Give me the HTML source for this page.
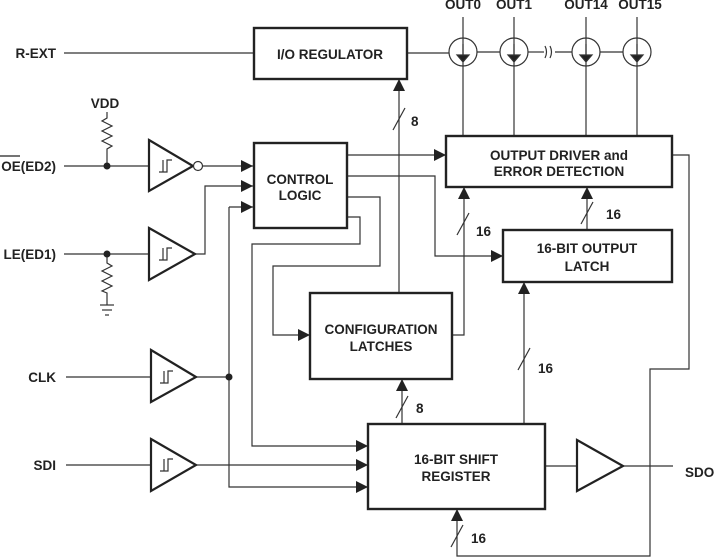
<!DOCTYPE html>
<html><head><meta charset="utf-8"><style>
html,body{margin:0;padding:0;background:#fff;}
svg{display:block;}
text{font-family:"Liberation Sans",Arial,sans-serif;font-weight:bold;font-size:13.5px;fill:#222;}
</style></head><body>
<svg width="714" height="557" viewBox="0 0 714 557" xmlns="http://www.w3.org/2000/svg">
<defs>
<marker id="a" viewBox="0 0 10 10" refX="10" refY="5" markerWidth="12" markerHeight="12" markerUnits="userSpaceOnUse" orient="auto"><path d="M0,0 L10,5 L0,10 z" fill="#222"/></marker>
</defs>
<g stroke="#333" stroke-width="1.2" fill="none">
<line x1="64" y1="53" x2="253" y2="53"/>
<line x1="407" y1="53" x2="449" y2="53"/>
<line x1="477" y1="52" x2="500" y2="52"/>
<line x1="528" y1="52" x2="544" y2="52"/>
<line x1="555" y1="52" x2="572" y2="52"/>
<line x1="600" y1="52" x2="623" y2="52"/>
<path d="M545,46 q3,6 0,12 M550,46 q3,6 0,12"/>
<circle cx="463" cy="52" r="14"/><circle cx="514" cy="52" r="14"/><circle cx="586" cy="52" r="14"/><circle cx="637" cy="52" r="14"/>
<line x1="463" y1="17" x2="463" y2="136"/><line x1="514" y1="17" x2="514" y2="136"/><line x1="586" y1="17" x2="586" y2="136"/><line x1="637" y1="17" x2="637" y2="136"/>
<line x1="64" y1="166" x2="149" y2="166"/>
<path d="M107,112 L107,118 L102,121 L112,126 L102,131 L112,136 L102,141 L112,146 L107,149 L107,166"/>
<line x1="202" y1="166" x2="253" y2="166" marker-end="url(#a)"/>
<line x1="64" y1="254" x2="149" y2="254"/>
<path d="M107,254 L107,263 L112,266 L102,271 L112,276 L102,281 L112,286 L102,291 L107,293 L107,305"/>
<line x1="100" y1="305" x2="114" y2="305"/><line x1="102" y1="310" x2="112" y2="310"/><line x1="105" y1="315" x2="109" y2="315"/>
<path d="M195,254 L205,254 L205,186 L253,186" marker-end="url(#a)"/>
<line x1="66" y1="377" x2="151" y2="377"/>
<line x1="196" y1="377" x2="229" y2="377"/>
<path d="M229,207 L229,487 L368,487" marker-end="url(#a)"/>
<line x1="229" y1="207" x2="253" y2="207" marker-end="url(#a)"/>
<line x1="66" y1="465" x2="151" y2="465"/>
<line x1="196" y1="465" x2="368" y2="465" marker-end="url(#a)"/>
<line x1="347" y1="155" x2="446" y2="155" marker-end="url(#a)"/>
<path d="M347,176 L435,176 L435,256 L503,256" marker-end="url(#a)"/>
<path d="M347,197 L380,197 L380,266 L273,266 L273,335 L310,335" marker-end="url(#a)"/>
<path d="M347,217 L360,217 L360,244 L252,244 L252,446 L368,446" marker-end="url(#a)"/>
<line x1="399" y1="293" x2="399" y2="79" marker-end="url(#a)"/>
<line x1="393" y1="130" x2="405" y2="108"/>
<path d="M452,335 L464,335 L464,187" marker-end="url(#a)"/>
<line x1="457" y1="235" x2="469" y2="213"/>
<line x1="587" y1="230" x2="587" y2="187" marker-end="url(#a)"/>
<line x1="581" y1="224" x2="593" y2="202"/>
<line x1="402" y1="424" x2="402" y2="379" marker-end="url(#a)"/>
<line x1="396" y1="418" x2="408" y2="396"/>
<line x1="524" y1="424" x2="524" y2="282" marker-end="url(#a)"/>
<line x1="518" y1="370" x2="530" y2="348"/>
<line x1="545" y1="466" x2="577" y2="466"/>
<line x1="623" y1="466" x2="673" y2="466"/>
<path d="M672,155 L689,155 L689,369 L650,369 L650,556 L457,556 L457,509" marker-end="url(#a)"/>
<line x1="451" y1="547" x2="463" y2="525"/>
</g>
<g fill="#222"><circle cx="107" cy="166" r="3.5"/><circle cx="107" cy="254" r="3.5"/><circle cx="229" cy="377" r="3.5"/></g>
<g fill="#222" stroke="#333" stroke-width="1.2">
<path d="M463,44 L463,56"/><path d="M457,55 L469,55 L463,62 z"/>
<path d="M514,44 L514,56"/><path d="M508,55 L520,55 L514,62 z"/>
<path d="M586,44 L586,56"/><path d="M580,55 L592,55 L586,62 z"/>
<path d="M637,44 L637,56"/><path d="M631,55 L643,55 L637,62 z"/>
</g>
<g stroke="#222" stroke-width="2.2" fill="#fff">
<path d="M149,140 L193,166 L149,191 z"/>
<path d="M149,228 L195,254 L149,280 z"/>
<path d="M151,350 L196,377 L151,402 z"/>
<path d="M151,439 L196,465 L151,491 z"/>
<path d="M577,440 L623,466 L577,491 z"/>
</g>
<circle cx="198" cy="166" r="4.5" fill="#fff" stroke="#333" stroke-width="1.2"/>
<g stroke="#333" stroke-width="1.2" fill="none">
<path d="M159,172 L167,172 L167,160 L172,160 M163,172 L163,160"/>
<path d="M159,260 L167,260 L167,248 L172,248 M163,260 L163,248"/>
<path d="M160,383 L168,383 L168,371 L173,371 M164,383 L164,371"/>
<path d="M160,471 L168,471 L168,459 L173,459 M164,471 L164,459"/>
</g>
<g stroke="#222" stroke-width="2.4" fill="#fff">
<rect x="254" y="28" width="153" height="51"/>
<rect x="254" y="143" width="93" height="85"/>
<rect x="446" y="136" width="226" height="51"/>
<rect x="503" y="230" width="169" height="52"/>
<rect x="310" y="293" width="142" height="86"/>
<rect x="368" y="424" width="177" height="85"/>
</g>
<text x="330" y="59" text-anchor="middle">I/O REGULATOR</text>
<text x="300" y="184" text-anchor="middle">CONTROL</text>
<text x="300" y="200" text-anchor="middle">LOGIC</text>
<text x="559" y="160" text-anchor="middle">OUTPUT DRIVER and</text>
<text x="559" y="176" text-anchor="middle">ERROR DETECTION</text>
<text x="587" y="253" text-anchor="middle">16-BIT OUTPUT</text>
<text x="587" y="271" text-anchor="middle">LATCH</text>
<text x="381" y="334" text-anchor="middle">CONFIGURATION</text>
<text x="381" y="351" text-anchor="middle">LATCHES</text>
<text x="456" y="464" text-anchor="middle">16-BIT SHIFT</text>
<text x="456" y="481" text-anchor="middle">REGISTER</text>
<text x="56" y="58" text-anchor="end">R-EXT</text>
<text x="105" y="108" text-anchor="middle">VDD</text>
<text x="56" y="171" text-anchor="end">OE(ED2)</text>
<line x1="0" y1="156" x2="20" y2="156" stroke="#222" stroke-width="1.2"/>
<text x="56" y="259" text-anchor="end">LE(ED1)</text>
<text x="56" y="382" text-anchor="end">CLK</text>
<text x="56" y="470" text-anchor="end">SDI</text>
<text x="685" y="477">SDO</text>
<text x="463" y="9" text-anchor="middle">OUT0</text>
<text x="514" y="9" text-anchor="middle">OUT1</text>
<text x="586" y="9" text-anchor="middle">OUT14</text>
<text x="640" y="9" text-anchor="middle">OUT15</text>
<text x="411" y="126">8</text>
<text x="476" y="236">16</text>
<text x="606" y="219">16</text>
<text x="416" y="413">8</text>
<text x="538" y="373">16</text>
<text x="471" y="543">16</text>
</svg>
</body></html>
